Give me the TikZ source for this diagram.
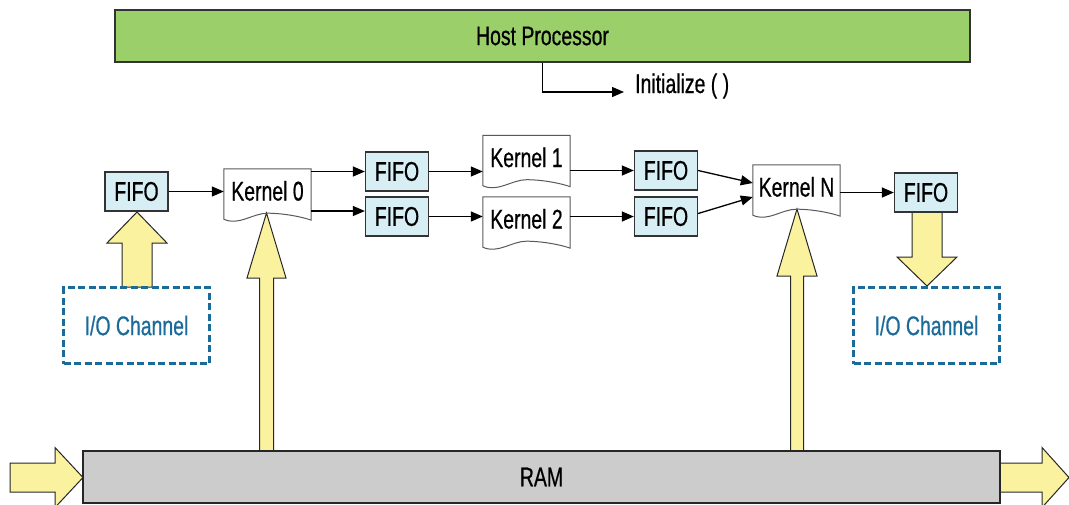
\documentclass[tikz,border=0pt]{standalone}
\usepackage{fontspec}
\setmainfont{Liberation Sans}[FakeStretch=0.72,FakeBold=0.6]
\usetikzlibrary{arrows.meta,calc}
\definecolor{hostgreen}{HTML}{9BCF6A}
\definecolor{fifoblue}{HTML}{D7EEF5}
\definecolor{yel}{HTML}{FAF29E}
\definecolor{ramgray}{HTML}{CCCCCC}
\definecolor{iob}{HTML}{1A6A9A}
\newcommand\docshape[1]{%
  \draw[kborder] (#1.north west) -- (#1.north east) -- (#1.south east)
    .. controls ($(#1.south east)+(-8,-3)$) and ($(#1.south)+(17,-7)$) .. ($(#1.south)+(0,-7)$)
    .. controls ($(#1.south)+(-15,-7)$) and ($(#1.south west)+(15,6)$) .. ($(#1.south west)+(0,-1)$)
    -- cycle;}
\newcommand\varrow[6]{%
  \draw[yarr] (#1-#5,#2) -- (#1-#5,#4) -- (#1-#6,#4) -- (#1,#3) -- (#1+#6,#4) -- (#1+#5,#4) -- (#1+#5,#2) -- cycle;}
\newcommand\harrow[6]{%
  \draw[yarr] (#2,#1-#5) -- (#4,#1-#5) -- (#4,#1-#6) -- (#3,#1) -- (#4,#1+#6) -- (#4,#1+#5) -- (#2,#1+#5) -- cycle;}
\begin{document}
\begin{tikzpicture}[x=1pt,y=-1pt,
  font=\fontsize{27pt}{32pt}\selectfont,
  host/.style={draw=black!80, fill=hostgreen, line width=1.3pt, minimum width=855pt, minimum height=52pt, inner sep=0},
  fifo/.style={draw=black!80, fill=fifoblue, line width=1.3pt, minimum width=63pt, minimum height=39pt, inner sep=0},
  kern/.style={minimum width=87pt, minimum height=51pt, inner sep=0, text height=19pt, text depth=7pt},
  kborder/.style={draw=black!65, line width=1pt},
  conn/.style={line width=1.3pt, -{Triangle[length=12pt,width=10pt]}},
  yarr/.style={fill=yel, draw=black!85, line width=1pt, line join=miter},
  io/.style={draw=iob, text=iob, dash pattern=on 7pt off 3.5pt, line width=2.2pt, minimum width=146pt, minimum height=76pt, inner sep=0},
  ram/.style={draw=black!85, fill=ramgray, line width=1.5pt, minimum width=917pt, minimum height=52pt, inner sep=0}
]
\useasboundingbox (0,0) rectangle (1069,504);

% host and initialize
\node[host] (host) at (542.5,36) {Host Processor};
\node[anchor=west, inner xsep=0pt, inner ysep=0pt, text height=2pt, text depth=0pt] (init) at (624,92) {\hspace*{11pt}Initialize ( )};
\draw[line width=1.3pt, -{Triangle[length=12pt,width=10pt]}] (host.south) |- (init.west);

% yellow arrows (under boxes)
\varrow{137}{287}{212}{243}{15}{30}
\varrow{927}{212}{286}{257}{15}{30}
\varrow{266.5}{451}{213}{278}{7}{19.5}
\varrow{797}{451}{209}{276}{6.5}{20}
\harrow{477.5}{10}{83}{55}{14.5}{30}
\harrow{477.5}{1000}{1069}{1042}{14.5}{30}

% FIFOs
\node[fifo] (f1) at (136.5,191.5) {FIFO};
\node[fifo] (f2) at (397,171.5) {FIFO};
\node[fifo] (f3) at (397,216.5) {FIFO};
\node[fifo] (f4) at (666,170.5) {FIFO};
\node[fifo] (f5) at (666,216.5) {FIFO};
\node[fifo] (f6) at (926,192.5) {FIFO};

% kernels
\node[kern] (k0) at (267.5,194.5) {Kernel 0};
\node[kern] (k1) at (526.5,161) {Kernel 1};
\node[kern] (k2) at (526.5,222.5) {Kernel 2};
\node[kern] (kn) at (796.5,190.5) {Kernel N};
\docshape{k0}
\docshape{k1}
\docshape{k2}
\docshape{kn}

% I/O channels
\node[io] (io1) at (136.5,325.5) {I/O Channel};
\node[io] (io2) at (926.5,325.5) {I/O Channel};

% RAM
\node[ram] (ram) at (541.5,477) {RAM};

% connectors
\draw[conn] (f1.east) -- (f1.east -| k0.west);
\draw[conn] (k0.east |- f2.west) -- (f2.west);
\draw[conn] ([yshift=-16.5pt]k0.east) -- ([yshift=-16.5pt]k0.east -| f3.west);
\draw[conn] (f2.east) -- (f2.east -| k1.west);
\draw[conn] (f3.east) -- (f3.east -| k2.west);
\draw[conn] (k1.east |- f4.west) -- (f4.west);
\draw[conn] (k2.east |- f5.west) -- (f5.west);
\draw[conn] (f4.east) -- ([yshift=7.5pt]kn.west);
\draw[conn] ([yshift=3pt]f5.east) -- ([yshift=-6.5pt]kn.west);
\draw[conn] (kn.east |- f6.west) -- (f6.west);
\end{tikzpicture}
\end{document}
